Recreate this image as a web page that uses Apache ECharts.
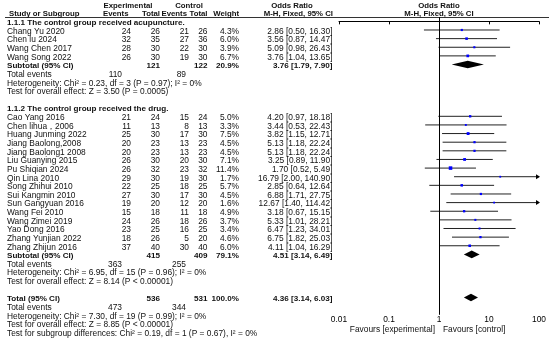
<!DOCTYPE html>
<html><head><meta charset="utf-8">
<script src="https://cdn.jsdelivr.net/npm/echarts@6/dist/echarts.min.js"></script>
<style>html,body{margin:0;padding:0;background:#fff}#c{width:550px;height:340px}</style>
</head><body><div id="c"></div>
<script>
// ---------- DATA ----------
const group1Title = '1.1.1 The control group received acupuncture.';
const studies1 = ['Chang Yu 2020','Chen lu 2024','Wang Chen 2017','Wang Song 2022'];
const expEvents1 = [24,32,28,26];
const expTotal1  = [26,35,30,30];
const ctlEvents1 = [21,27,22,19];
const ctlTotal1  = [26,36,30,30];
const weight1    = [4.3,6.0,3.9,6.7];
const or1 = [2.86,3.56,5.09,3.76];
const lo1 = [0.50,0.87,0.98,1.04];
const hi1 = [16.30,14.47,26.43,13.65];
const sub1 = {expTotal:121, ctlTotal:122, weight:20.9, or:3.76, lo:1.79, hi:7.90, expEv:110, ctlEv:89,
  het:'Heterogeneity: Chi\u00b2 = 0.23, df = 3 (P = 0.97); I\u00b2 = 0%', test:'Test for overall effect: Z = 3.50 (P = 0.0005)'};

const group2Title = '1.1.2 The control group received the drug.';
const studies2 = ['Cao Yang 2016','Chen lihua\uff0c2006','Huang Junming 2022','Jiang Baolong,2008','Jiang Baolong1 2008','Liu Guanying 2015','Pu Shiqian 2024','Qin Lina 2010','Song Zhihui 2010','Sui Kangmin 2010','Sun Gangyuan 2016','Wang Fei 2010','Wang Zimei 2019','Yao Dong 2016','Zhang Yunjian 2022','Zhang Zhijun 2016'];
const expEvents2 = [21,11,25,20,20,26,26,29,22,27,19,15,24,23,18,37];
const expTotal2  = [24,13,30,23,23,30,32,30,25,30,20,18,26,25,26,40];
const ctlEvents2 = [15,8,17,13,13,20,23,19,18,17,12,11,18,16,5,30];
const ctlTotal2  = [24,13,30,23,23,30,32,30,25,30,20,18,26,25,20,40];
const weight2    = [5.0,3.3,7.5,4.5,4.5,7.1,11.4,1.7,5.7,4.5,1.6,4.9,3.7,3.4,4.6,6.0];
const or2 = [4.20,3.44,3.82,5.13,5.13,3.25,1.70,16.79,2.85,6.88,12.67,3.18,5.33,6.47,6.75,4.11];
const lo2 = [0.97,0.53,1.15,1.18,1.18,0.89,0.52,2.00,0.64,1.71,1.40,0.67,1.01,1.23,1.82,1.04];
const hi2 = [18.18,22.43,12.71,22.24,22.24,11.90,5.49,140.90,12.64,27.75,114.42,15.15,28.21,34.01,25.03,16.29];
const sub2 = {expTotal:415, ctlTotal:409, weight:79.1, or:4.51, lo:3.14, hi:6.49, expEv:363, ctlEv:255,
  het:'Heterogeneity: Chi\u00b2 = 6.95, df = 15 (P = 0.96); I\u00b2 = 0%', test:'Test for overall effect: Z = 8.14 (P < 0.00001)'};

const overall = {expTotal:536, ctlTotal:531, weight:100.0, or:4.36, lo:3.14, hi:6.03, expEv:473, ctlEv:344,
  het:'Heterogeneity: Chi\u00b2 = 7.30, df = 19 (P = 0.99); I\u00b2 = 0%', test:'Test for overall effect: Z = 8.85 (P < 0.00001)',
  subgroup:'Test for subgroup differences: Chi\u00b2 = 0.19, df = 1 (P = 0.67), I\u00b2 = 0%'};

const xTicks = [0.01, 0.1, 1, 10, 100];
const xTickLabels = ['0.01','0.1','1','10','100'];
const favourLeft = 'Favours [experimental]';
const favourRight = 'Favours [control]';

// ---------- LAYOUT ----------
const FONT = '"Liberation Sans", Arial, Helvetica, sans-serif';
const FS = 8.4, FSB = 8.1, FSH = 7.8;
const TXT_DY = 1.5;
const COL = {name:7, expEv:131, expTot:160, ctlEv:189, ctlTot:207.5, weight:239, orTxt:332.5, totEvExp:122, totEvCtl:186};

const fmtOR = (o,l,h) => o.toFixed(2)+' ['+l.toFixed(2)+', '+h.toFixed(2)+']';
const rows = [];   // text rows
const marks = [];  // plot marks [or,row,lo,hi,weight,kind]
function T(t,x,align,bold,fs){return {t:String(t),x,align,bold:!!bold,fs:fs||(bold?FSB:FS)};}
function T1(t,align,bold,fs){return {t,x1:true,align,bold:!!bold,fs:fs||(bold?FSB:FS)};}

rows.push({r:-2, cells:[T('Experimental',128,'center',1,FSH),T('Control',189,'center',1,FSH),T('Odds Ratio',292,'center',1,FSH),T1('Odds Ratio','center',1,FSH)]});
rows.push({r:-1, cells:[T('Study or Subgroup',9,'left',1,FSH),T('Events',128.5,'right',1,FSH),T('Total',160,'right',1,FSH),T('Events',187,'right',1,FSH),T('Total',207.5,'right',1,FSH),T('Weight',239,'right',1,FSH),T('M-H, Fixed, 95% CI',333,'right',1,FSH),T1('M-H, Fixed, 95% CI','center',1,FSH)]});

function addGroup(start, title, st, ee, et, ce, ct, w, o, l, h, sub){
  let r = start;
  rows.push({r:r++, cells:[T(title,COL.name,'left',1)]});
  for (let i=0;i<st.length;i++){
    rows.push({r, cells:[T(st[i],COL.name,'left'),T(ee[i],COL.expEv,'right'),T(et[i],COL.expTot,'right'),T(ce[i],COL.ctlEv,'right'),T(ct[i],COL.ctlTot,'right'),T(w[i].toFixed(1)+'%',COL.weight,'right'),T(fmtOR(o[i],l[i],h[i]),COL.orTxt,'right')]});
    marks.push([o[i], r, l[i], h[i], w[i], 'study']);
    r++;
  }
  rows.push({r, cells:[T('Subtotal (95% CI)',COL.name,'left',1),T(sub.expTotal,COL.expTot,'right',1),T(sub.ctlTotal,COL.ctlTot,'right',1),T(sub.weight.toFixed(1)+'%',COL.weight,'right',1),T(fmtOR(sub.or,sub.lo,sub.hi),COL.orTxt,'right',1)]});
  marks.push([sub.or, r, sub.lo, sub.hi, sub.weight, 'diamond']);
  r++;
  rows.push({r:r++, cells:[T('Total events',COL.name,'left'),T(sub.expEv,COL.totEvExp,'right'),T(sub.ctlEv,COL.totEvCtl,'right')]});
  rows.push({r:r++, cells:[T(sub.het,COL.name,'left')]});
  rows.push({r:r++, cells:[T(sub.test,COL.name,'left')]});
  return r + 1;
}
let nr = addGroup(0, group1Title, studies1, expEvents1, expTotal1, ctlEvents1, ctlTotal1, weight1, or1, lo1, hi1, sub1);
nr = addGroup(nr, group2Title, studies2, expEvents2, expTotal2, ctlEvents2, ctlTotal2, weight2, or2, lo2, hi2, sub2);
rows.push({r:nr, cells:[T('Total (95% CI)',COL.name,'left',1),T(overall.expTotal,COL.expTot,'right',1),T(overall.ctlTotal,COL.ctlTot,'right',1),T(overall.weight.toFixed(1)+'%',COL.weight,'right',1),T(fmtOR(overall.or,overall.lo,overall.hi),COL.orTxt,'right',1)]});
marks.push([overall.or, nr, overall.lo, overall.hi, overall.weight, 'diamond']);
rows.push({r:nr+1, cells:[T('Total events',COL.name,'left'),T(overall.expEv,COL.totEvExp,'right'),T(overall.ctlEv,COL.totEvCtl,'right')]});
rows.push({r:nr+2, cells:[T(overall.het,COL.name,'left')]});
rows.push({r:nr+3, cells:[T(overall.test,COL.name,'left')]});
rows.push({r:nr+4, cells:[T(overall.subgroup,COL.name,'left')]});
const favourRow = nr + 3.5;

const chart = echarts.init(document.getElementById('c'), null, {renderer:'canvas'});
const XMAX = 100;
chart.setOption({
  animation:false,
  backgroundColor:'#fff',
  grid:{left:339, right:11, top:17.05, bottom:25.2},
  xAxis:{type:'log', logBase:10, min:xTicks[0], max:xTicks[xTicks.length-1],
    axisLine:{lineStyle:{color:'#000',width:1}},
    axisTick:{show:true,length:3,lineStyle:{color:'#000'}},
    splitLine:{show:false},
    axisLabel:{margin:1,color:'#000',fontSize:FS,fontFamily:FONT,
      formatter:v=>xTickLabels[Math.round(Math.log10(v))+2]}},
  yAxis:{type:'value', inverse:true, min:-0.5, max:34, show:false},
  graphic:[{type:'line', shape:{x1:5,y1:17.5,x2:549,y2:17.5}, style:{stroke:'#333',lineWidth:1}, silent:true}],
  series:[
    {type:'custom', clip:false, silent:true,
     data:marks, encode:{x:0,y:1},
     renderItem:(p,api)=>{
       const o=api.value(0), r=api.value(1), l=api.value(2), h=api.value(3), w=api.value(4);
       const kind = marks[p.dataIndex][5];
       const c = api.coord([o,r]);
       const pl = api.coord([l,r]);
       const ph = api.coord([Math.min(h,XMAX),r]);
       if (kind==='diamond'){
         return {type:'polygon', shape:{points:[[pl[0],c[1]],[c[0],c[1]-3.8],[ph[0],c[1]],[c[0],c[1]+3.8]]}, style:{fill:'#000'}};
       }
       const s = Math.max(1.8, Math.sqrt(w)*1.05);
       const ch=[{type:'line', shape:{x1:pl[0],y1:c[1],x2:ph[0],y2:c[1]}, style:{stroke:'#222',lineWidth:1}},
                 {type:'rect', shape:{x:c[0]-s/2,y:c[1]-s/2,width:s,height:s}, style:{fill:'#0000ff'}}];
       if (h>XMAX) ch.push({type:'polygon', shape:{points:[[ph[0]+1,c[1]],[ph[0]-3,c[1]-2.5],[ph[0]-3,c[1]+2.5]]}, style:{fill:'#000'}});
       return {type:'group', children:ch};
     },
     markLine:{silent:true, symbol:'none', label:{show:false}, lineStyle:{color:'#000',width:1,type:'solid'}, data:[{xAxis:1}]}
    },
    {type:'custom', clip:false, silent:true,
     data:rows.map(o=>[1,o.r]).concat([[1,favourRow]]), encode:{x:0,y:1},
     renderItem:(p,api)=>{
       const pt = api.coord([1, api.value(1)]);
       const y = pt[1] + TXT_DY;
       let cells;
       if (p.dataIndex >= rows.length){
         cells=[{t:favourLeft,x:pt[0]-4,align:'right',fs:FS},{t:favourRight,x:pt[0]+4,align:'left',fs:FS}];
       } else cells = rows[p.dataIndex].cells;
       return {type:'group', children:cells.map(c=>({type:'text', x:c.x1?pt[0]:c.x, y:y,
         style:{text:c.t, fill:'#111', fontSize:c.fs, fontFamily:FONT, fontWeight:c.bold?'bold':'normal', align:c.align, verticalAlign:'middle'}}))};
     }
    }
  ]
});
</script></body></html>
